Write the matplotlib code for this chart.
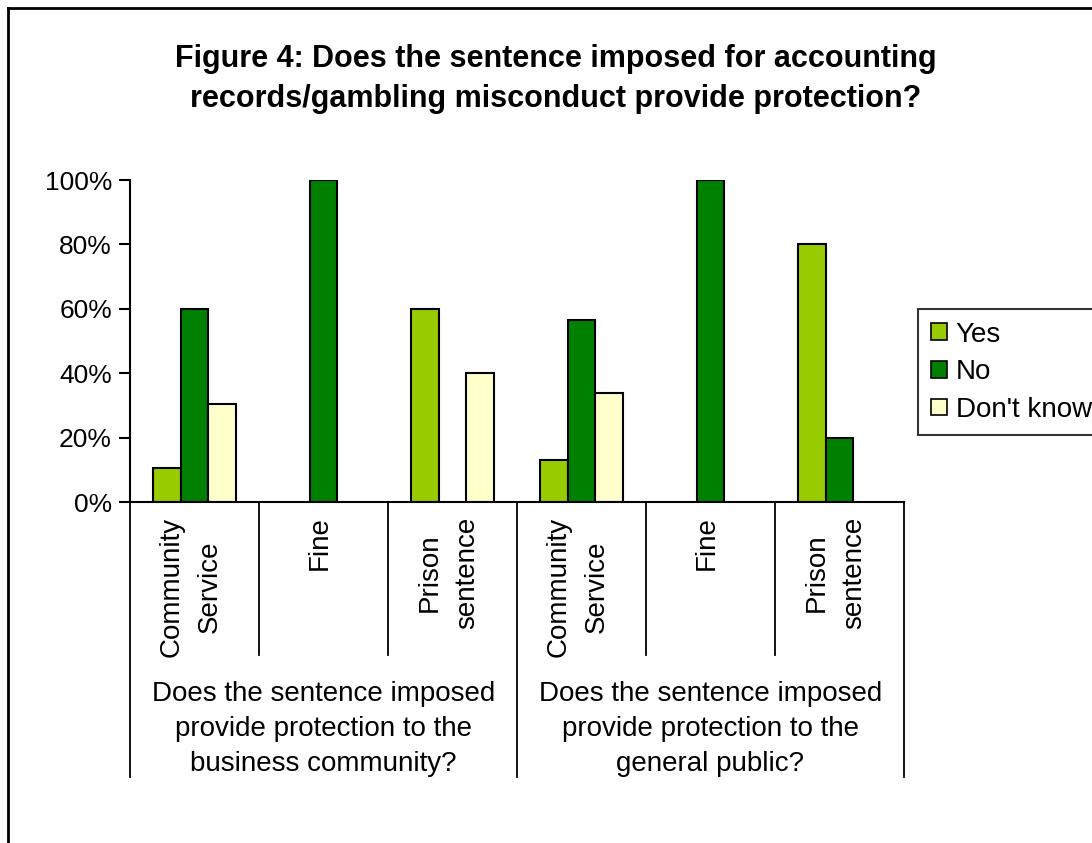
import matplotlib.pyplot as plt
from matplotlib.lines import Line2D
from matplotlib.patches import Patch
import matplotlib.transforms as mtransforms

plt.rcParams['font.family'] = ['Liberation Sans', 'DejaVu Sans']

# data (percent)
categories = ['Community\nService', 'Fine', 'Prison\nsentence',
              'Community\nService', 'Fine', 'Prison\nsentence']
groups = ['Does the sentence imposed\nprovide protection to the\nbusiness community?',
          'Does the sentence imposed\nprovide protection to the\ngeneral public?']
series = ['Yes', 'No', "Don't know"]
yes_vals = [10.5, 0, 60, 13, 0, 80]
no_vals = [60, 100, 0, 56.5, 100, 20]
dk_vals = [30.5, 0, 40, 34, 0, 0]
colors = ['#99CC00', '#008000', '#FFFFCC']

fig = plt.figure(figsize=(10.92, 8.43), dpi=100)
ax = fig.add_axes([130 / 1092, 1 - 502 / 843, 774 / 1092, 322 / 843])

width = 0.217
x = list(range(len(categories)))
for i, (vals, c) in enumerate(zip([yes_vals, no_vals, dk_vals], colors)):
    pos = [xi + (i - 1) * width for xi in x]
    for p, v in zip(pos, vals):
        if v > 0:
            ax.bar(p, v, width=width, color=c, edgecolor='black', linewidth=1.5)

ax.set_xlim(-0.5, 5.5)
ax.set_ylim(0, 100)
ax.set_yticks([0, 20, 40, 60, 80, 100])
ax.set_yticklabels(['0%', '20%', '40%', '60%', '80%', '100%'])
ax.tick_params(axis='y', direction='out', length=8, width=1.5, pad=5, labelsize=19)
ax.set_xticks([])
for s in ['top', 'right']:
    ax.spines[s].set_visible(False)
ax.spines['left'].set_linewidth(1.5)
ax.spines['bottom'].set_linewidth(1.5)

# separators below the axis
trans = mtransforms.blended_transform_factory(ax.transData, ax.transAxes)
for b in [0.5, 1.5, 3.5, 4.5]:
    ax.plot([b, b], [0, -0.475], color='black', lw=1.3, transform=trans, clip_on=False)
for b in [-0.5, 2.5, 5.5]:
    ax.plot([b, b], [0, -0.854], color='black', lw=1.3, transform=trans, clip_on=False)

# category labels
for xi, lab in zip(x, categories):
    ax.text(xi - 0.03, -0.045, lab, transform=trans, rotation=90, ha='center', va='top',
            multialignment='center', fontsize=20, linespacing=1.6)

# group labels
for gi, g in enumerate(groups):
    ax.text(1 + 3 * gi, -0.555, g, transform=trans, ha='center', va='top',
            multialignment='center', fontsize=20, linespacing=1.45)

# title
fig.text(0.509, 1 - 79 / 843,
         'Figure 4: Does the sentence imposed for accounting\nrecords/gambling misconduct provide protection?',
         ha='center', va='center', fontsize=22, fontweight='bold', linespacing=1.45)

# legend
handles = [Patch(facecolor=c, edgecolor='black', linewidth=1.2) for c in colors]
leg = fig.legend(handles, series, loc='upper left', bbox_to_anchor=(918 / 1092, 1 - 309 / 843),
                 fontsize=20, frameon=True, fancybox=False, handlelength=0.6,
                 handleheight=0.55, handletextpad=0.3, labelspacing=0.42,
                 borderpad=0.45, borderaxespad=0)
leg.get_frame().set_edgecolor('black')
leg.get_frame().set_linewidth(1.5)

# outer frame (left and top only visible)
fig.add_artist(Line2D([7.5 / 1092, 7.5 / 1092], [0, 1 - 7.5 / 843], color='black', lw=2,
                      transform=fig.transFigure))
fig.add_artist(Line2D([7.5 / 1092, 1], [1 - 7.5 / 843, 1 - 7.5 / 843], color='black', lw=2,
                      transform=fig.transFigure))

fig.savefig('out.png', dpi=100, facecolor='white')
